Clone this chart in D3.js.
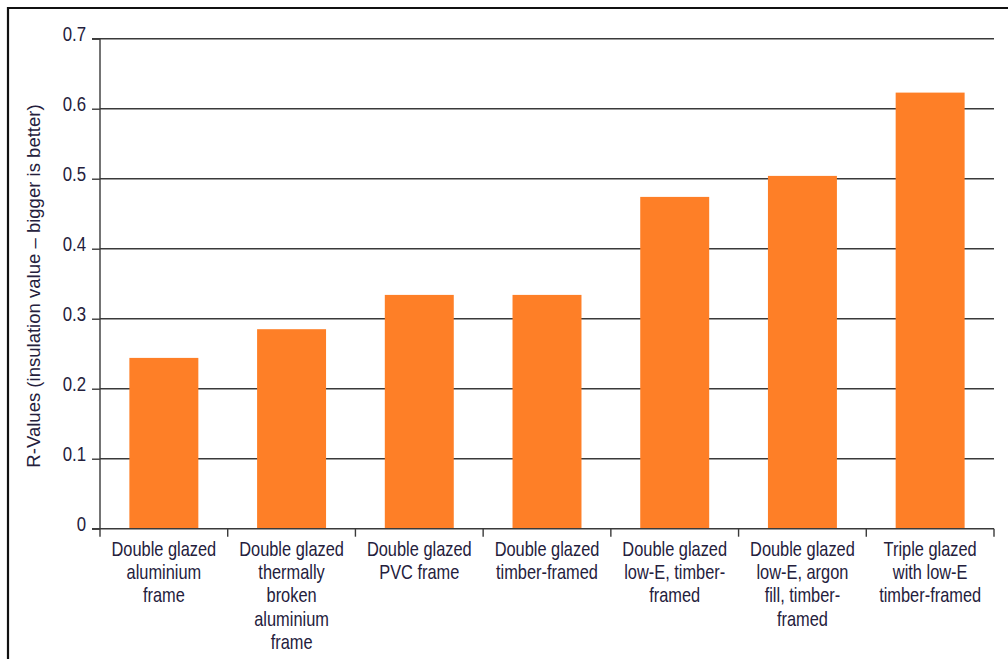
<!DOCTYPE html>
<html>
<head>
<meta charset="utf-8">
<script src="https://cdn.jsdelivr.net/npm/d3@7"></script>
<style>
  html, body { margin: 0; padding: 0; background: #fff; }
  svg text { font-family: "Liberation Sans", Arial, sans-serif; fill: #24203c; }
</style>
</head>
<body>
<svg id="chart" width="1008" height="659"></svg>
<script>
// Window types and their insulation R-values
const categories = [
  ["Double glazed", "aluminium", "frame"],
  ["Double glazed", "thermally", "broken", "aluminium", "frame"],
  ["Double glazed", "PVC frame"],
  ["Double glazed", "timber-framed"],
  ["Double glazed", "low-E, timber-", "framed"],
  ["Double glazed", "low-E, argon", "fill, timber-", "framed"],
  ["Triple glazed", "with low-E", "timber-framed"]
];
const rValues = [0.244, 0.285, 0.334, 0.334, 0.474, 0.504, 0.623];
const yTicks = [0, 0.1, 0.2, 0.3, 0.4, 0.5, 0.6, 0.7];
const yTickLabels = ["0", "0.1", "0.2", "0.3", "0.4", "0.5", "0.6", "0.7"];
const yTitle = "R-Values (insulation value \u2013 bigger is better)";

const svg = d3.select("#chart");
const narrow = 0.82; // horizontal squeeze giving a condensed typeface look

// outer frame (top and left edges visible)
svg.append("path")
  .attr("d", "M8,700 L8,8 L1010,8")
  .attr("fill", "none").attr("stroke", "#111").attr("stroke-width", 2.2);

const plotL = 100, plotR = 994, plotT = 38.7, plotB = 528.7;
const x = d3.scaleBand().domain(d3.range(categories.length)).range([plotL, plotR]).paddingInner(0.46).paddingOuter(0.23);
const y = d3.scaleLinear().domain([0, 0.7]).range([plotB, plotT]);

// horizontal gridlines
svg.append("g").selectAll("line").data(yTicks.slice(1)).join("line")
  .attr("x1", plotL).attr("x2", plotR)
  .attr("y1", d => y(d)).attr("y2", d => y(d))
  .attr("stroke", "#3a3a3a").attr("stroke-width", 1.4);

// bars
svg.append("g").selectAll("rect").data(rValues).join("rect")
  .attr("x", (d, i) => x(i)).attr("width", x.bandwidth())
  .attr("y", d => y(d)).attr("height", d => y(0) - y(d))
  .attr("fill", "#fe7f27");

// y axis
const yAxis = d3.axisLeft(y).tickValues(yTicks).tickSize(8).tickPadding(5)
  .tickFormat((d, i) => yTickLabels[i]);
const gy = svg.append("g").attr("transform", `translate(${plotL},0)`).call(yAxis);
gy.select(".domain").attr("stroke", "#3a3a3a").attr("stroke-width", 1.4).attr("d", `M-8,${plotT}H0V${plotB}`);
gy.selectAll(".tick line").attr("stroke", "#3a3a3a").attr("stroke-width", 1.4);
gy.selectAll(".tick text")
  .attr("font-family", "'Liberation Sans', Arial, sans-serif")
  .attr("font-size", 21).attr("dy", "0.36em").attr("x", null)
  .attr("transform", "translate(-14,-6) scale(0.8,1)")
  .style("fill", "#24203c");

// x axis: baseline plus separators between categories
const xEdges = d3.range(categories.length + 1).map(i => plotL + i * (plotR - plotL) / categories.length);
const gx = svg.append("g");
gx.append("line").attr("x1", plotL - 8).attr("x2", plotR).attr("y1", plotB).attr("y2", plotB)
  .attr("stroke", "#3a3a3a").attr("stroke-width", 1.6);
gx.selectAll("line.sep").data(xEdges).join("line").attr("class", "sep")
  .attr("x1", d => d).attr("x2", d => d).attr("y1", plotB).attr("y2", plotB + 8)
  .attr("stroke", "#3a3a3a").attr("stroke-width", 1.4);

// category labels
const labels = gx.selectAll("text.cat").data(categories).join("text").attr("class", "cat")
  .attr("text-anchor", "middle").attr("font-size", 20)
  .attr("transform", (d, i) => `translate(${x(i) + x.bandwidth() / 2},${plotB + 27}) scale(${narrow},1)`);
labels.selectAll("tspan").data(d => d).join("tspan")
  .attr("x", 0).attr("dy", (d, i) => i === 0 ? 0 : 23.3).text(d => d);

// y title
svg.append("text")
  .attr("transform", "translate(40,286) rotate(-90) scale(1.06,1)")
  .attr("text-anchor", "middle").attr("font-size", 17.5)
  .text(yTitle);
</script>
</body>
</html>
